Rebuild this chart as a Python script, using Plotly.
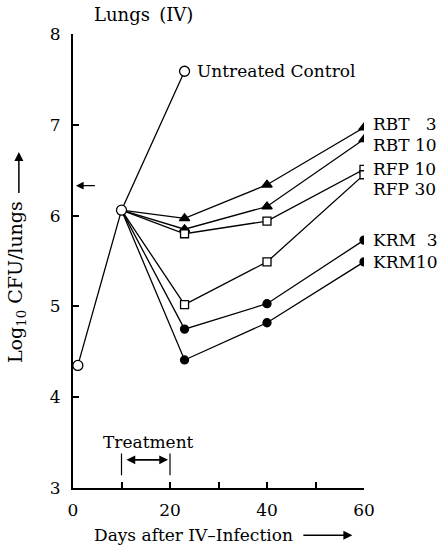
import plotly.graph_objects as go

# Infection course shared by all groups
control_days = [1, 10, 23]
control_cfu = [4.35, 6.06, 7.59]

# Treated groups branch from the day-10 point
treat_start_day = 10
treat_start_cfu = 6.06
treat_days = [23, 40, 60]

groups = ["RBT 3", "RBT 10", "RFP 10", "RFP 30", "KRM 3", "KRM10"]
labels = ["RBT\u00a0\u20073", "RBT 10", "RFP 10", "RFP 30", "KRM\u20073", "KRM10"]
cfu = {
    "RBT 3": [5.97, 6.34, 6.97],
    "RBT 10": [5.85, 6.10, 6.84],
    "RFP 10": [5.80, 5.94, 6.51],
    "RFP 30": [5.02, 5.49, 6.45],
    "KRM 3": [4.75, 5.03, 5.73],
    "KRM10": [4.41, 4.82, 5.49],
}
label_y = [7.01, 6.78, 6.51, 6.29, 5.73, 5.49]
symbols = {
    "RBT 3": "triangle-up", "RBT 10": "triangle-up",
    "RFP 10": "square-open", "RFP 30": "square-open",
    "KRM 3": "circle", "KRM10": "circle",
}

treatment_window = [10, 20]
baseline_marker = 6.33

x_ticks = [0, 10, 20, 30, 40, 50, 60]
x_ticktext = ["0", "", "20", "", "40", "", "60"]
y_ticks = [3, 4, 5, 6, 7, 8]

FONT = "DejaVu Serif"
INK = "black"
LABEL_SIZE = 17

fig = go.Figure()

for g in groups:
    fig.add_trace(go.Scatter(
        x=[treat_start_day] + treat_days, y=[treat_start_cfu] + cfu[g],
        mode="lines", line=dict(color=INK, width=1.3), showlegend=False,
    ))
    sym = symbols[g]
    open_sym = sym.endswith("-open")
    fig.add_trace(go.Scatter(
        x=treat_days, y=cfu[g], mode="markers", showlegend=False,
        marker=dict(symbol=sym.replace("-open", ""),
                    size=9 if "triangle" in sym else 8,
                    color="white" if open_sym else INK,
                    line=dict(color=INK, width=1.3)),
    ))

fig.add_trace(go.Scatter(
    x=control_days, y=control_cfu, mode="lines+markers", showlegend=False,
    line=dict(color=INK, width=1.3),
    marker=dict(symbol="circle", size=10, color="white",
                line=dict(color=INK, width=1.3)),
))

# Group labels at the right end of each line
for lab, ly in zip(labels, label_y):
    fig.add_annotation(x=treat_days[-1], y=ly, text=lab, showarrow=False,
                       xanchor="left", yanchor="middle", xshift=7,
                       font=dict(family=FONT, size=LABEL_SIZE, color=INK))

fig.add_annotation(x=control_days[-1], y=control_cfu[-1], text="Untreated Control",
                   showarrow=False, xanchor="left", yanchor="middle", xshift=10,
                   font=dict(family=FONT, size=LABEL_SIZE, color=INK))

# Treatment period
fig.add_annotation(x=treatment_window[1] - 0.4, y=3.31, ax=treatment_window[0] + 0.4, ay=3.31,
                   axref="x", ayref="y", text=" ", showarrow=True,
                   arrowhead=2, startarrowhead=2, arrowside="end+start",
                   arrowsize=1.1, arrowwidth=1.6, arrowcolor=INK)
for d in treatment_window:
    fig.add_shape(type="line", x0=d, x1=d, y0=3.14, y1=3.38,
                  line=dict(color=INK, width=1.2))
fig.add_annotation(x=sum(treatment_window) / 2 + 0.6, y=3.51, text="Treatment",
                   showarrow=False, font=dict(family=FONT, size=LABEL_SIZE, color=INK))

# Arrow marking the infecting inoculum on the y axis
fig.add_annotation(x=0.6, y=baseline_marker, ax=22, ay=0, text=" ", showarrow=True,
                   arrowhead=2, arrowsize=1.1, arrowwidth=1.4, arrowcolor=INK)

# Panel title
fig.add_annotation(xref="paper", yref="paper", x=0.064, y=1.042, text="Lungs\u2009 (IV)",
                   showarrow=False, xanchor="left", yanchor="middle",
                   font=dict(family=FONT, size=18, color=INK))

# Axis titles with arrows
fig.add_annotation(xref="paper", yref="paper", x=0.066, y=-0.104,
                   text="Days after IV\u2013Infection", showarrow=False,
                   xanchor="left", yanchor="middle",
                   font=dict(family=FONT, size=LABEL_SIZE, color=INK))
fig.add_annotation(xref="paper", yref="paper", x=0.96, y=-0.104, ax=-52, ay=0,
                   text=" ", showarrow=True, arrowhead=2, arrowsize=1.2,
                   arrowwidth=1.5, arrowcolor=INK)
fig.add_annotation(xref="paper", yref="paper", x=-0.192, y=0.454,
                   text="Log<sub>10</sub> CFU/lungs", showarrow=False, textangle=-90,
                   xanchor="center", yanchor="middle",
                   font=dict(family=FONT, size=19, color=INK))
fig.add_annotation(xref="paper", yref="paper", x=-0.186, y=0.74, ax=0, ay=51,
                   text=" ", showarrow=True, arrowhead=2, arrowsize=1.2,
                   arrowwidth=1.5, arrowcolor=INK)

fig.update_xaxes(range=[0, 60], tickvals=x_ticks, ticktext=x_ticktext,
                 ticks="inside", ticklen=6, tickwidth=1.6, tickcolor=INK,
                 showline=True, linecolor=INK, linewidth=2, showgrid=False,
                 zeroline=False, ticklabelstandoff=6,
                 tickfont=dict(family=FONT, size=17, color=INK))
fig.update_yaxes(range=[3, 8], tickvals=y_ticks,
                 ticks="inside", ticklen=6, tickwidth=1.6, tickcolor=INK,
                 showline=True, linecolor=INK, linewidth=2, showgrid=False,
                 zeroline=False, ticklabelstandoff=7,
                 tickfont=dict(family=FONT, size=17, color=INK))

fig.update_layout(width=440, height=547, margin=dict(l=73, r=76, t=34, b=59),
                  paper_bgcolor="white", plot_bgcolor="white", showlegend=False)

fig.write_html("out.html")
